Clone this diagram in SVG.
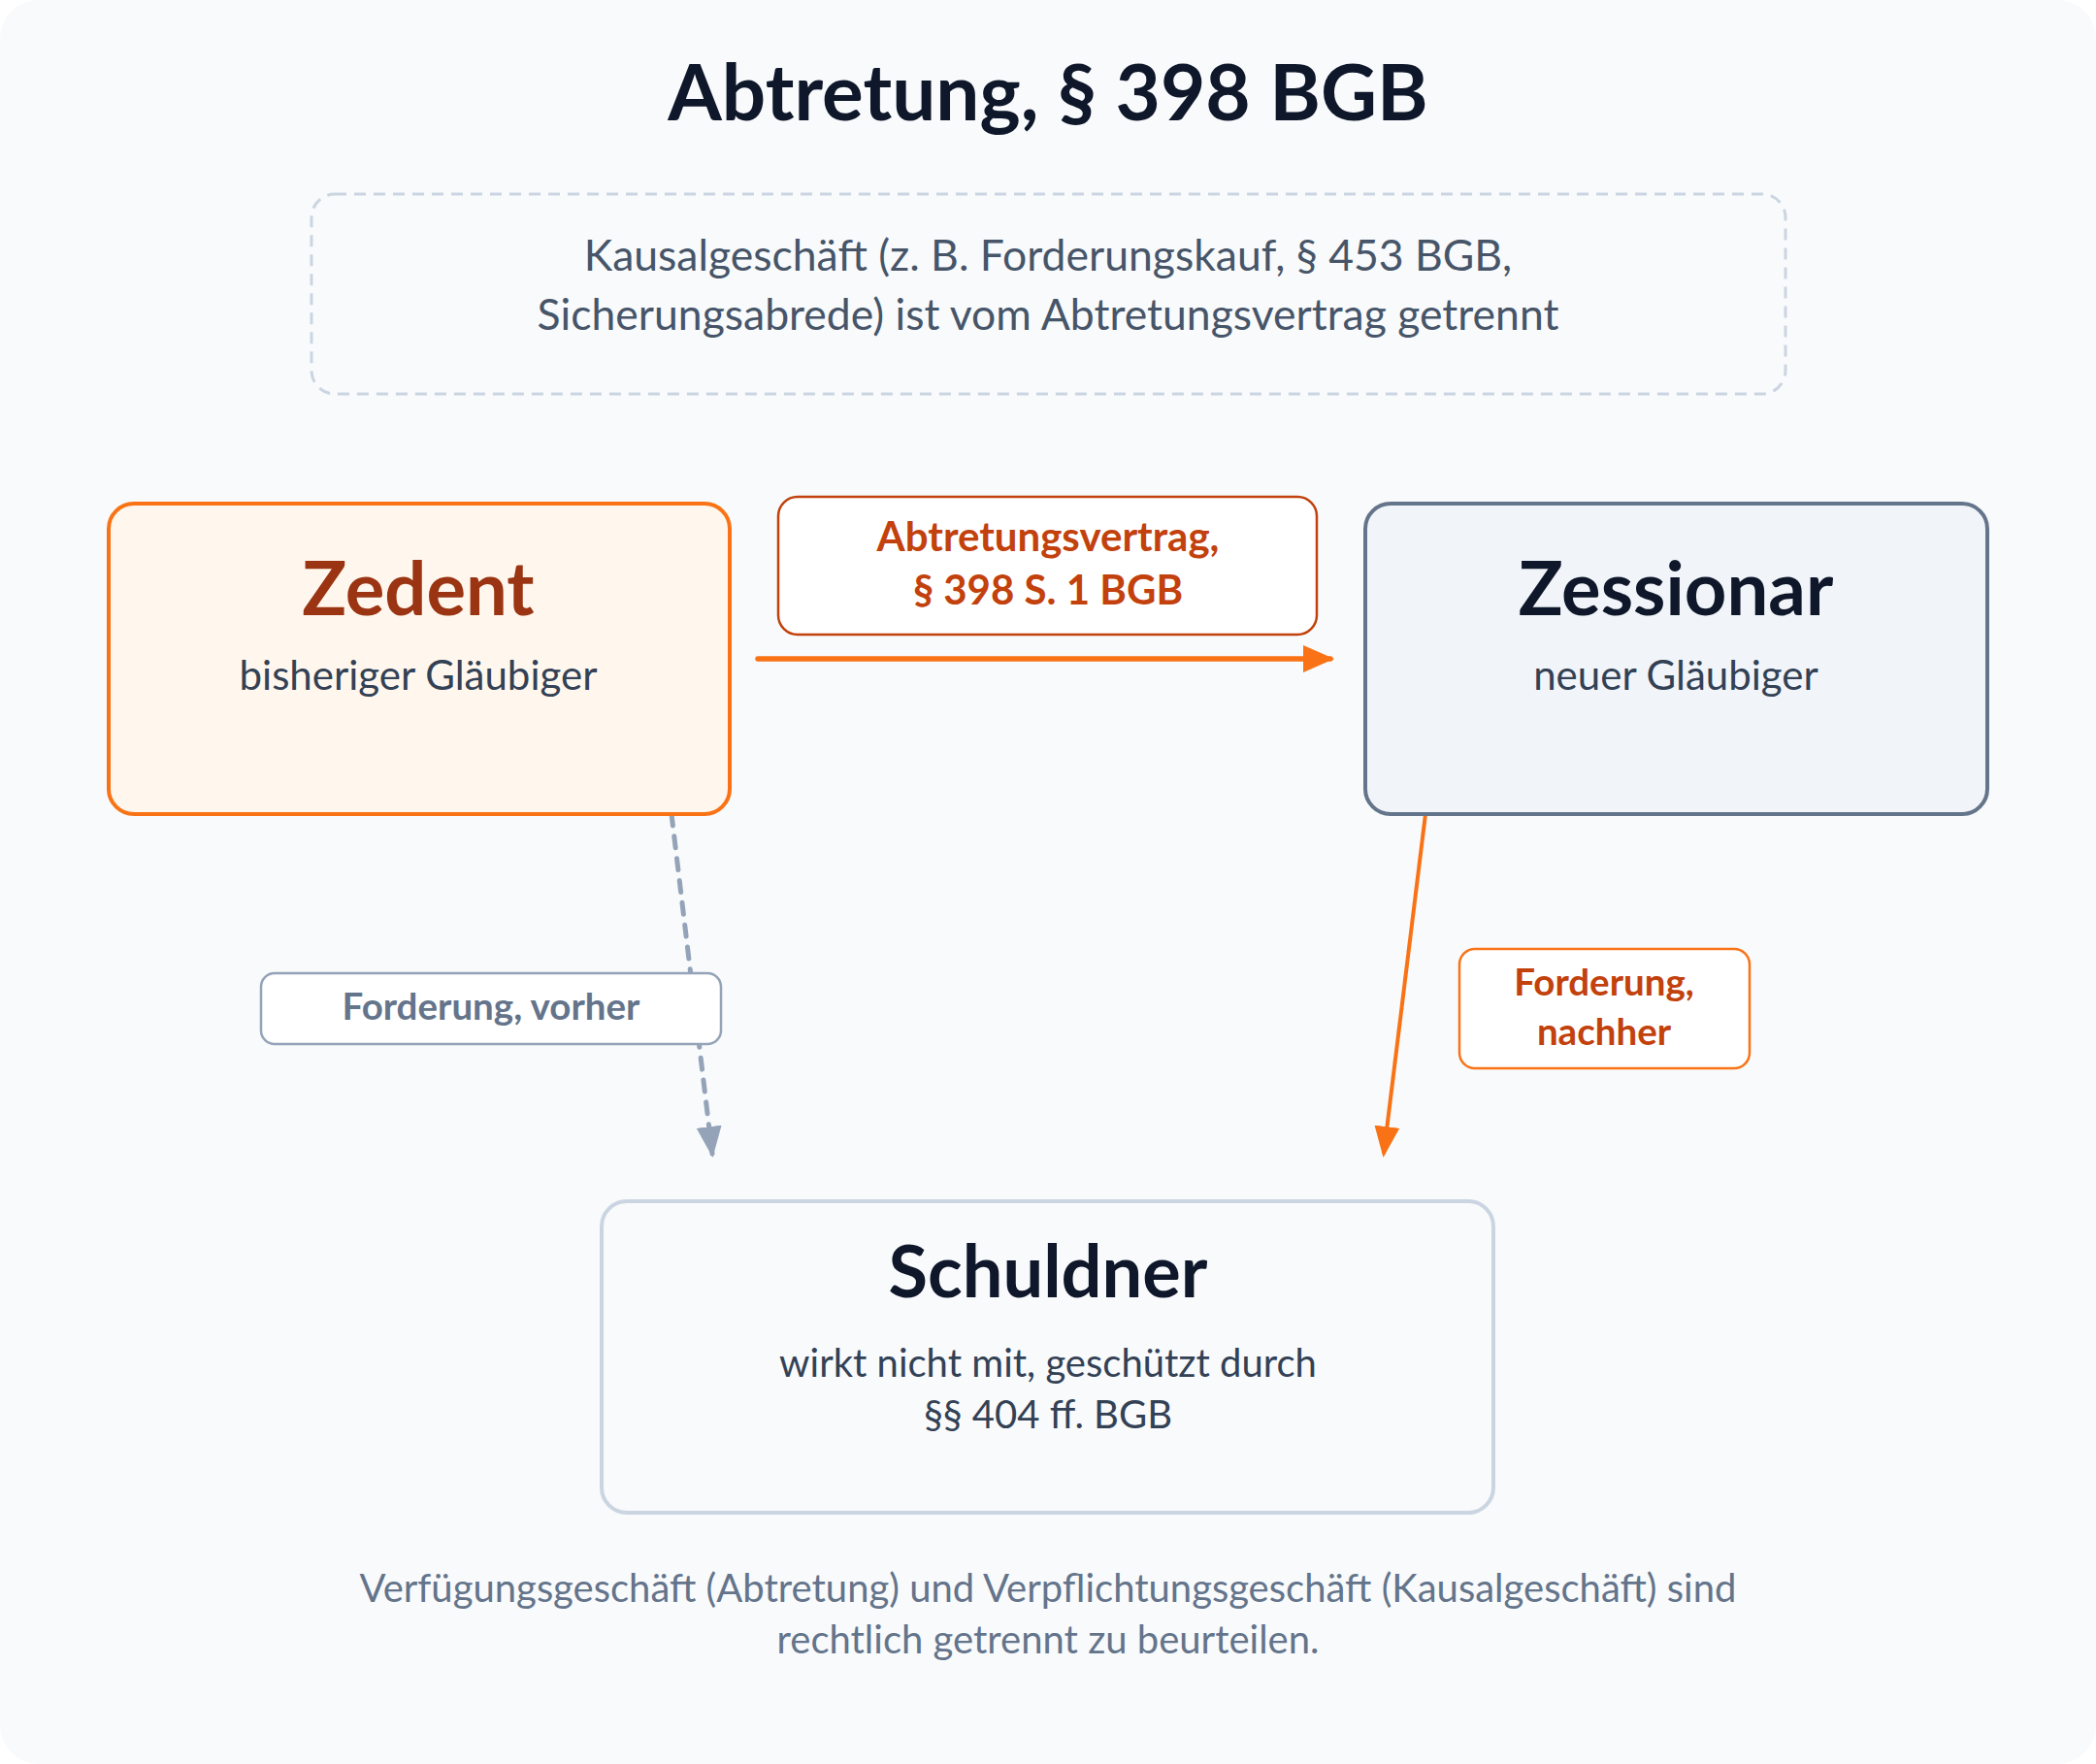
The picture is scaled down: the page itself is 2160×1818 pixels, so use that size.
<svg xmlns="http://www.w3.org/2000/svg" width="2160" height="1818" viewBox="0 0 2160 1818">
<defs>
<style>
text{font-family:Lato,"Open Sans","Liberation Sans",sans-serif;text-anchor:middle}
.title{font-size:80px;font-weight:700;fill:#0f172a}
.note{font-size:44.5px;fill:#475569}
.head{font-size:76px;font-weight:700}
.sub{font-size:42px;fill:#334155}
.sub2{font-size:40px;fill:#334155}
.lbl{font-size:38.5px;font-weight:700}
.lbl2{font-size:42px;font-weight:700}
.foot{font-size:40px;fill:#64748b}
</style>
<marker id="ao" viewBox="0 0 32 28" refX="28" refY="14" markerWidth="32" markerHeight="28" markerUnits="userSpaceOnUse" orient="auto"><path d="M0,0L32,14L0,28z" fill="#f97316"/></marker>
<marker id="ao2" viewBox="0 0 32 26" refX="28" refY="13" markerWidth="32" markerHeight="26" markerUnits="userSpaceOnUse" orient="auto"><path d="M0,0L32,13L0,26z" fill="#f97316"/></marker>
<marker id="ag" viewBox="0 0 32 26" refX="28" refY="13" markerWidth="32" markerHeight="26" markerUnits="userSpaceOnUse" orient="auto"><path d="M0,0L32,13L0,26z" fill="#94a3b8"/></marker>
</defs>
<rect x="0" y="0" width="2160" height="1818" rx="40" fill="#f8fafc"/>
<text class="title" x="1080" y="124">Abtretung, § 398 BGB</text>
<g id="kausal">
<rect x="321" y="200" width="1519" height="206" rx="24" fill="none" stroke="#cbd5e1" stroke-width="3" stroke-dasharray="12 8"/>
<text class="note" x="1080" y="279">Kausalgeschäft (z. B. Forderungskauf, § 453 BGB,</text>
<text class="note" x="1080" y="340">Sicherungsabrede) ist vom Abtretungsvertrag getrennt</text>
</g>
<g id="connectors">
<line x1="781" y1="679" x2="1371" y2="679" stroke="#f97316" stroke-width="5.5" stroke-linecap="round" marker-end="url(#ao)"/>
<line x1="692" y1="839" x2="734" y2="1189" stroke="#94a3b8" stroke-width="5" stroke-linecap="round" stroke-dasharray="12 11" marker-end="url(#ag)"/>
<line x1="1469" y1="839" x2="1426" y2="1189" stroke="#f97316" stroke-width="4" marker-end="url(#ao2)"/>
</g>
<g id="zedent">
<rect x="112" y="519" width="640" height="320" rx="26" fill="#fff7ed" stroke="#f97316" stroke-width="4"/>
<text class="head" x="431" y="634" fill="#9a3412">Zedent</text>
<text class="sub" x="431" y="711">bisheriger Gläubiger</text>
</g>
<g id="zessionar">
<rect x="1407" y="519" width="641" height="320" rx="26" fill="#f1f5f9" stroke="#64748b" stroke-width="4"/>
<text class="head" x="1727" y="634" fill="#0f172a">Zessionar</text>
<text class="sub" x="1727" y="711">neuer Gläubiger</text>
</g>
<g id="schuldner">
<rect x="620" y="1238" width="919" height="321" rx="26" fill="#f8fafc" stroke="#cbd5e1" stroke-width="4"/>
<text class="head" x="1080" y="1337" fill="#0f172a" style="font-size:74px">Schuldner</text>
<text class="sub2" x="1080" y="1419">wirkt nicht mit, geschützt durch</text>
<text class="sub2" x="1080" y="1472">§§ 404 ff. BGB</text>
</g>
<g id="label-abtretungsvertrag">
<rect x="802" y="512" width="555" height="142" rx="20" fill="#ffffff" stroke="#c2410c" stroke-width="2.5"/>
<text class="lbl2" x="1080" y="568" fill="#c2410c">Abtretungsvertrag,</text>
<text class="lbl2" x="1080" y="623" fill="#c2410c">§ 398 S. 1 BGB</text>
</g>
<g id="label-vorher">
<rect x="269" y="1003" width="474" height="73" rx="14" fill="#ffffff" stroke="#94a3b8" stroke-width="2.5"/>
<text class="lbl" x="506" y="1051" fill="#64748b">Forderung, vorher</text>
</g>
<g id="label-nachher">
<rect x="1504" y="978" width="299" height="123" rx="16" fill="#ffffff" stroke="#f97316" stroke-width="2.5"/>
<text class="lbl" x="1653" y="1026" fill="#c2410c">Forderung,</text>
<text class="lbl" x="1653" y="1077" fill="#c2410c">nachher</text>
</g>
<text class="foot" x="1080" y="1651">Verfügungsgeschäft (Abtretung) und Verpflichtungsgeschäft (Kausalgeschäft) sind</text>
<text class="foot" x="1080" y="1704">rechtlich getrennt zu beurteilen.</text>
</svg>
